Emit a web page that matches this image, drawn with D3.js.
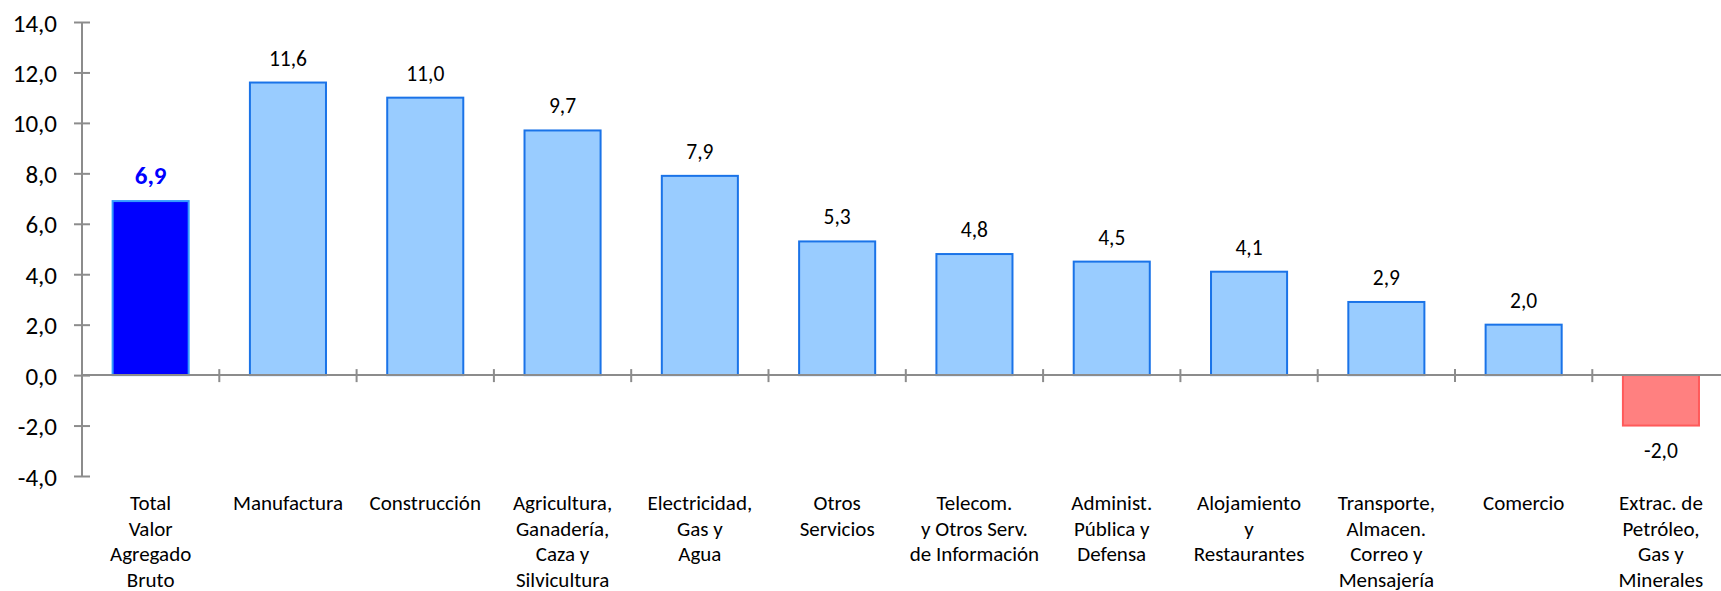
<!DOCTYPE html>
<html>
<head>
<meta charset="utf-8">
<script src="https://cdn.jsdelivr.net/npm/d3@7"></script>
<style>
    body { margin: 0; background: #fff; }
    svg text { font-family: Calibri, Carlito, Lato, sans-serif; }
</style>
</head>
<body>
<div id="chartContainer"></div>
<script>
// categories (each entry is the lines of the label)
const categories = [
    ['Total', 'Valor', 'Agregado', 'Bruto'],
    ['Manufactura'],
    ['Construcción'],
    ['Agricultura,', 'Ganadería,', 'Caza y', 'Silvicultura'],
    ['Electricidad,', 'Gas y', 'Agua'],
    ['Otros', 'Servicios'],
    ['Telecom.', 'y Otros Serv.', 'de Información'],
    ['Administ.', 'Pública y', 'Defensa'],
    ['Alojamiento', 'y', 'Restaurantes'],
    ['Transporte,', 'Almacen.', 'Correo y', 'Mensajería'],
    ['Comercio'],
    ['Extrac. de', 'Petróleo,', 'Gas y', 'Minerales']
];
const values = [6.9, 11.6, 11.0, 9.7, 7.9, 5.3, 4.8, 4.5, 4.1, 2.9, 2.0, -2.0];
const yTicks = [-4, -2, 0, 2, 4, 6, 8, 10, 12, 14];

const width = 1721;
const height = 591;
const chartContainer = document.getElementById('chartContainer');

// numbers are written with a decimal comma and a plain hyphen for minus
const locale = d3.formatLocale({decimal: ',', thousands: '.', grouping: [3], currency: ['', ''], minus: '-'});
const fmt = locale.format('.1f');

const svg = d3.select(chartContainer)
    .append('svg')
    .attr('width', width)
    .attr('height', height);

const x = d3.scaleBand()
    .domain(d3.range(categories.length))
    .range([82, 1729.6])
    .paddingInner(0.446)
    .paddingOuter(0.223);

const y = d3.scaleLinear()
    .domain([-4, 14])
    .range([476, 22]);

const axisColor = '#8c8c8c';

// bars
svg.selectAll('rect.bar')
    .data(values)
    .enter()
    .append('rect')
    .attr('class', 'bar')
    .attr('x', (d, i) => x(i))
    .attr('width', x.bandwidth())
    .attr('y', d => y(Math.max(0, d)))
    .attr('height', d => Math.abs(y(d) - y(0)))
    .attr('fill', function(d, i) {
        if (i === 0) return '#0000ff';
        if (d < 0) return '#ff8080';
        return '#99ccff';
    })
    .attr('stroke', function(d, i) {
        if (i === 0) return '#3399ff';
        if (d < 0) return '#ff5a5a';
        return '#1a73e8';
    })
    .attr('stroke-width', 2);

// y axis with cross ticks
const yAxis = d3.axisLeft(y)
    .tickValues(yTicks)
    .tickSize(8)
    .tickFormat(fmt);

const gy = svg.append('g')
    .attr('transform', 'translate(82,0)')
    .call(yAxis);

gy.select('.domain').attr('stroke', axisColor).attr('stroke-width', 2).attr('d', `M0,${y(14)}V${y(-4)}`);
gy.selectAll('.tick line')
    .attr('stroke', axisColor)
    .attr('stroke-width', 2)
    .attr('x1', 8)
    .attr('x2', -8);
gy.selectAll('.tick text')
    .attr('x', -25)
    .attr('dy', '0.36em')
    .attr('fill', '#000')
    .style('font-size', '25px');

// zero line with category ticks between bars
svg.append('line')
    .attr('x1', 82)
    .attr('x2', width)
    .attr('y1', y(0))
    .attr('y2', y(0))
    .attr('stroke', axisColor)
    .attr('stroke-width', 2);

svg.selectAll('line.cattick')
    .data(d3.range(1, categories.length))
    .enter()
    .append('line')
    .attr('class', 'cattick')
    .attr('x1', i => x(i) - x.step() * x.paddingInner() / 2)
    .attr('x2', i => x(i) - x.step() * x.paddingInner() / 2)
    .attr('y1', y(0) - 6)
    .attr('y2', y(0) + 7)
    .attr('stroke', axisColor)
    .attr('stroke-width', 2);

// value labels
svg.selectAll('text.value')
    .data(values)
    .enter()
    .append('text')
    .attr('class', 'value')
    .attr('x', (d, i) => x(i) + x.bandwidth() / 2)
    .attr('y', d => d < 0 ? y(d) + 32 : y(d) - 17)
    .attr('text-anchor', 'middle')
    .attr('fill', (d, i) => i === 0 ? '#0000ff' : '#000')
    .style('font-weight', (d, i) => i === 0 ? 'bold' : 'normal')
    .style('font-size', (d, i) => i === 0 ? '25px' : '21.5px')
    .text(d => fmt(d));

// category labels
const catLabels = svg.selectAll('text.cat')
    .data(categories)
    .enter()
    .append('text')
    .attr('class', 'cat')
    .attr('text-anchor', 'middle')
    .attr('fill', '#000')
    .style('font-size', '21px');

catLabels.selectAll('tspan')
    .data((d, i) => d.map(line => ({line, i})))
    .enter()
    .append('tspan')
    .attr('x', d => x(d.i) + x.bandwidth() / 2)
    .attr('y', (d, j) => 510 + j * 25.7)
    .text(d => d.line);
</script>
</body>
</html>
